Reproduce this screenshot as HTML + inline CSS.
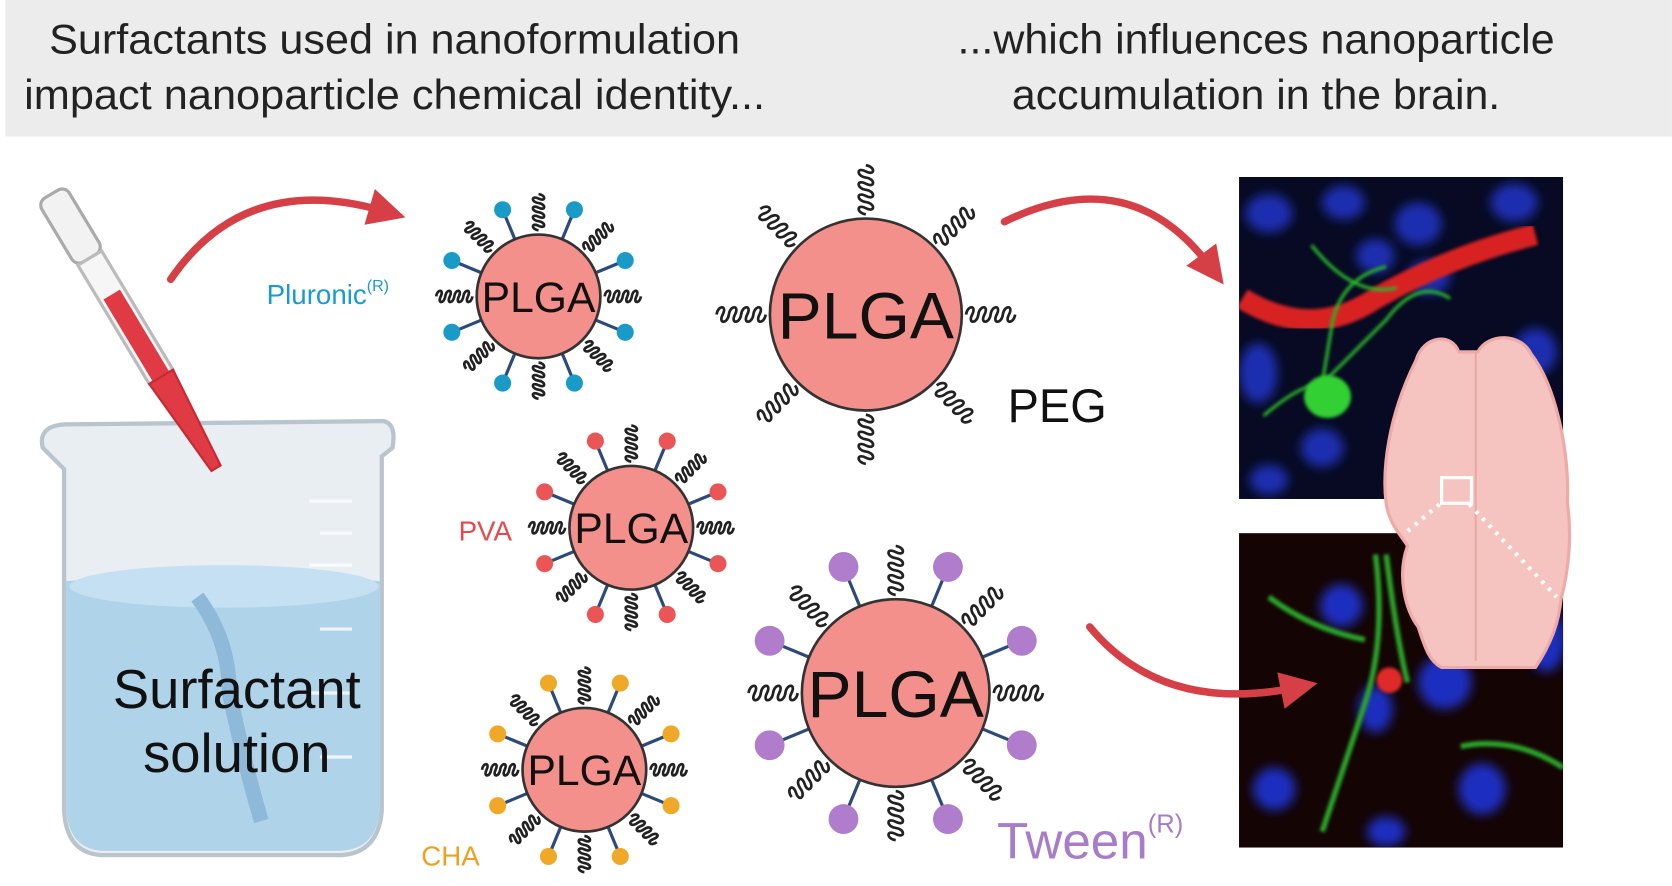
<!DOCTYPE html>
<html><head><meta charset="utf-8"><style>
html,body{margin:0;padding:0;background:#fff;overflow:hidden}
svg{display:block}
text{font-family:"Liberation Sans",sans-serif}
</style></head><body>
<svg id="s" width="1672" height="886" viewBox="0 0 1568 831" xmlns="http://www.w3.org/2000/svg">
<defs>
<filter id="b3"><feGaussianBlur stdDeviation="5"/></filter>
<filter id="b1"><feGaussianBlur stdDeviation="1.5"/></filter>
<marker id="ah" viewBox="0 0 10 10" refX="4" refY="5" markerWidth="5" markerHeight="5" orient="auto"><path d="M0,0 L10,5 L0,10 Z" fill="#d63f45"/></marker>
<clipPath id="c1"><rect x="1162" y="166" width="304" height="302"/></clipPath>
<clipPath id="c2"><rect x="1162" y="500" width="304" height="295"/></clipPath>
</defs>
<rect x="5" y="0" width="1563" height="128" fill="#ececec"/>
<g font-size="39" fill="#222" text-anchor="middle">
<text x="370" y="50" textLength="648" lengthAdjust="spacingAndGlyphs">Surfactants used in nanoformulation</text>
<text x="370" y="102" textLength="695" lengthAdjust="spacingAndGlyphs">impact nanoparticle chemical identity...</text>
<text x="1178" y="50" textLength="560" lengthAdjust="spacingAndGlyphs">...which influences nanoparticle</text>
<text x="1178" y="102" textLength="458" lengthAdjust="spacingAndGlyphs">accumulation in the brain.</text>
</g>

<!-- beaker -->
<path d="M40,420 Q35,400 60,398 L360,395 Q372,398 368,420 L358,428 L358,760 Q355,800 320,802 L95,802 Q62,800 60,760 L60,440 Z" fill="#e8eef2" stroke="#b9c4cc" stroke-width="4"/>
<path d="M62,545 Q200,530 356,545 L356,760 Q353,796 320,798 L95,798 Q65,796 62,760 Z" fill="#a9cfe8" opacity="0.9"/>
<ellipse cx="210" cy="550" rx="145" ry="20" fill="#c5e0f2"/>
<path d="M185,560 Q215,600 215,650 Q230,720 245,770" stroke="#8fb9d8" stroke-width="14" fill="none"/>
<g stroke="#fff" stroke-width="3" opacity="0.8"><line x1="290" y1="470" x2="330" y2="470"/><line x1="300" y1="500" x2="330" y2="500"/><line x1="290" y1="530" x2="330" y2="530"/><line x1="300" y1="590" x2="330" y2="590"/><line x1="290" y1="650" x2="330" y2="650"/><line x1="300" y1="710" x2="330" y2="710"/></g>
<text x="222" y="664" font-size="51" text-anchor="middle" fill="#111">Surfactant</text>
<text x="222" y="724" font-size="51" text-anchor="middle" fill="#111">solution</text>
<!-- pipette -->
<g transform="translate(48,182) rotate(-31)">
<rect x="-15" y="0" width="30" height="70" rx="8" fill="#f2f2f2" stroke="#aaa" stroke-width="3"/>
<rect x="-13" y="70" width="26" height="130" fill="#f6f6f6" stroke="#bbb" stroke-width="3"/>
<rect x="-9" y="110" width="18" height="90" fill="#e03b44"/>
<path d="M-13,200 L13,200 L5,300 L-5,300 Z" fill="#e03b44" stroke="#c52a33" stroke-width="2"/>
</g>

<g id="parts"></g>

<g font-size="26">
<text x="250" y="285" fill="#1a9bd0">Pluronic<tspan font-size="15" dy="-12">(R)</tspan></text>
<text x="430" y="507" fill="#e84a4a">PVA</text>
<text x="395" y="812" fill="#f0a020">CHA</text>
</g>
<text x="945" y="396" font-size="44" fill="#111">PEG</text>
<text x="935" y="805" font-size="48" fill="#a87cc8">Tween<tspan font-size="24" dy="-24">(R)</tspan></text>

<!-- micrographs -->
<g clip-path="url(#c1)">
<rect x="1162" y="166" width="304" height="302" fill="#070a22"/>
<g fill="#1b2db0" filter="url(#b3)">
<ellipse cx="1190" cy="200" rx="22" ry="18"/><ellipse cx="1260" cy="190" rx="20" ry="16"/><ellipse cx="1330" cy="210" rx="22" ry="20"/><ellipse cx="1420" cy="190" rx="22" ry="18"/>
<ellipse cx="1180" cy="350" rx="18" ry="28"/><ellipse cx="1240" cy="420" rx="20" ry="18"/><ellipse cx="1350" cy="360" rx="18" ry="20"/><ellipse cx="1340" cy="260" rx="20" ry="16"/><ellipse cx="1440" cy="330" rx="20" ry="22"/><ellipse cx="1190" cy="450" rx="18" ry="14"/><ellipse cx="1420" cy="440" rx="22" ry="16"/><ellipse cx="1290" cy="240" rx="18" ry="16"/>
</g>
<path d="M1165,280 Q1230,320 1290,280 Q1360,240 1440,220" stroke="#d82020" stroke-width="20" fill="none" filter="url(#b1)"/>
<g stroke="#2ab82a" stroke-width="3" fill="none" filter="url(#b1)">
<path d="M1185,390 Q1220,360 1240,360 Q1270,330 1300,300 Q1330,260 1360,280"/><path d="M1240,360 L1250,300 Q1260,260 1300,250"/><path d="M1230,230 Q1270,280 1310,270"/>
</g>
<ellipse cx="1245" cy="372" rx="22" ry="20" fill="#30d030" filter="url(#b1)"/>
</g>
<g clip-path="url(#c2)">
<rect x="1162" y="500" width="304" height="295" fill="#140404"/>
<g fill="#1d2fc0" filter="url(#b3)">
<ellipse cx="1258" cy="568" rx="20" ry="20"/><ellipse cx="1355" cy="640" rx="25" ry="25"/><ellipse cx="1290" cy="665" rx="16" ry="22"/><ellipse cx="1195" cy="740" rx="20" ry="20"/><ellipse cx="1390" cy="740" rx="22" ry="24"/><ellipse cx="1450" cy="600" rx="18" ry="30"/><ellipse cx="1300" cy="780" rx="18" ry="14"/>
</g>
<g stroke="#2aa82a" stroke-width="5" fill="none" filter="url(#b1)">
<path d="M1290,520 Q1300,600 1280,660 Q1260,720 1240,780"/><path d="M1300,520 Q1310,600 1320,640"/><path d="M1370,700 Q1420,690 1466,720"/><path d="M1190,560 Q1230,590 1280,600"/>
</g>
<circle cx="1303" cy="638" r="12" fill="#e02a2a" filter="url(#b1)"/>
<circle cx="1352" cy="608" r="12" fill="#30e030" filter="url(#b1)"/>
</g>
<!-- brain -->
<path d="M1368,330 C1362,312 1335,314 1328,338 C1302,390 1296,440 1300,472 C1303,492 1314,502 1320,512 C1310,540 1318,572 1330,588 C1336,606 1340,620 1352,626 L1440,626 C1456,602 1462,582 1464,562 C1472,532 1474,500 1470,472 C1472,420 1458,360 1436,332 C1426,312 1396,312 1386,330 Z" fill="#f6c4c0" stroke="#eeaaa6" stroke-width="3"/>
<path d="M1384,330 L1384,620" stroke="#e8a8a4" stroke-width="2"/>
<rect x="1352" y="448" width="28" height="24" fill="none" stroke="#fff" stroke-width="3"/>
<g stroke="#fff" stroke-width="4" stroke-dasharray="3,6" fill="none"><line x1="1350" y1="473" x2="1318" y2="500"/><line x1="1378" y1="473" x2="1460" y2="560"/></g>

<!-- arrows -->
<g fill="none" stroke="#d63f45" stroke-width="7" stroke-linecap="round">
<path d="M160,262 Q230,160 360,198" marker-end="url(#ah)"/>
<path d="M942,208 Q1060,150 1135,250" marker-end="url(#ah)"/>
<path d="M1022,588 Q1090,670 1215,645" marker-end="url(#ah)"/>
</g>
</svg>
<script>
var P=document.getElementById('parts'),NS='http://www.w3.org/2000/svg';
function el(t,a){var e=document.createElementNS(NS,t);for(var k in a)e.setAttribute(k,a[k]);P.appendChild(e);return e;}
function wig(cx,cy,ang,r,len,amp){var n=4,st=len/n,s='M0,0';
 for(var i=0;i<n;i++){s+=' c'+(st*0.1)+','+(-amp)+' '+(st*0.9)+','+(-amp)+' '+(st*0.5)+',0 c'+(-st*0.4)+','+amp+' '+(st*0.4)+','+amp+' '+(st*0.5)+',0';}
 el('path',{d:s,fill:'none',stroke:'#222','stroke-width':2.5,transform:'translate('+(cx+Math.cos(ang)*r)+','+(cy+Math.sin(ang)*r)+') rotate('+(ang*180/Math.PI)+')'});}
function part(cx,cy,R,col,dr,dotR,nd,fs,wl,wa){
 if(col){for(var i=0;i<nd;i++){var a=(i+0.5)*2*Math.PI/nd-Math.PI/2;
  el('line',{x1:cx+Math.cos(a)*R,y1:cy+Math.sin(a)*R,x2:cx+Math.cos(a)*dr,y2:cy+Math.sin(a)*dr,stroke:'#2d4b7a','stroke-width':3});
  el('circle',{cx:cx+Math.cos(a)*dr,cy:cy+Math.sin(a)*dr,r:dotR,fill:col});}}
 for(var i=0;i<8;i++){var a=i*2*Math.PI/8-Math.PI/2;wig(cx,cy,a,R+4,wl,wa);}
 el('circle',{cx:cx,cy:cy,r:R,fill:'#f4908c',stroke:'#333','stroke-width':2.5});
 var t=el('text',{x:cx,y:cy+fs*0.36,'font-size':fs,'text-anchor':'middle',fill:'#111'});t.textContent='PLGA';}
part(505,278,58,'#1a9bc7',88,8,8,40,34,7);
part(812,295,90,null,0,0,0,62,46,9);
part(592,495,58,'#ec5555',88,8,8,40,34,7);
part(548,722,58,'#f0a828',88,8,8,40,34,7);
part(840,650,88,'#b07ccc',128,14,8,62,46,9);
</script>
</body></html>
